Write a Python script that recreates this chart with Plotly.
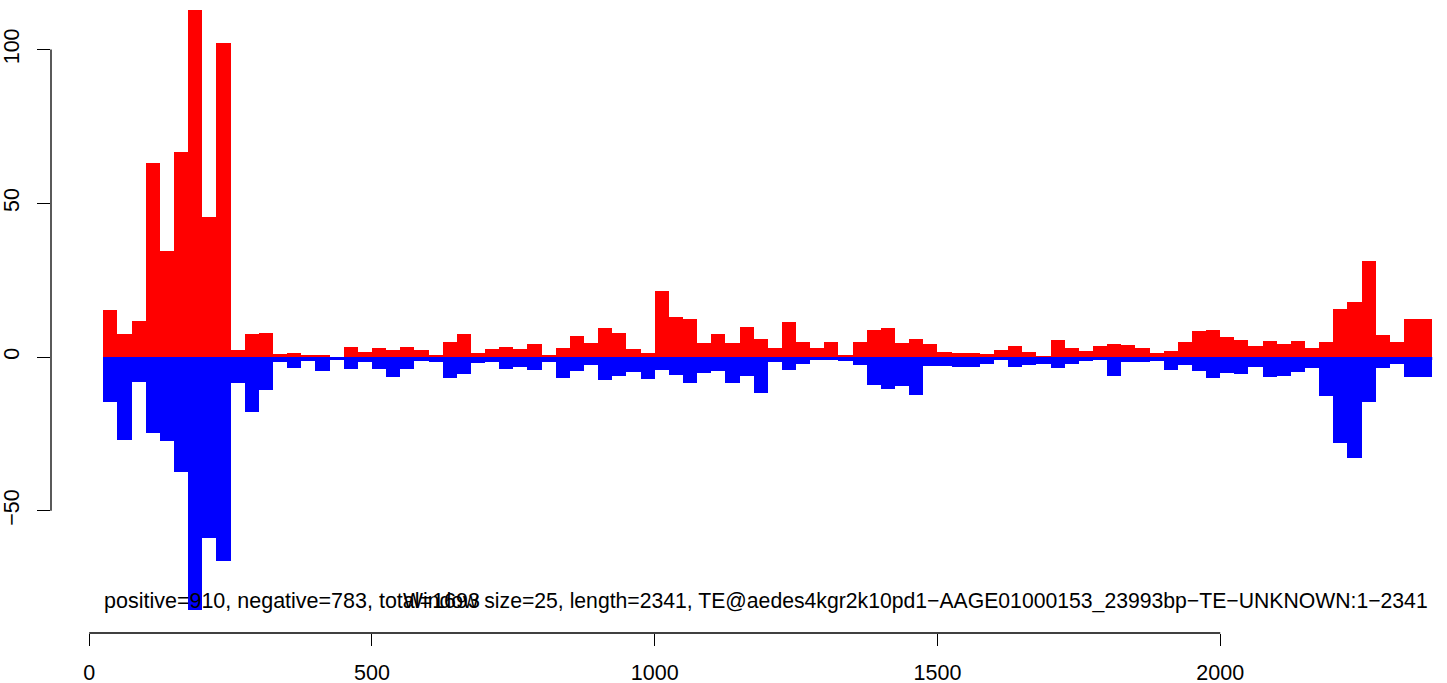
import plotly.graph_objects as go

# ---------------- data ----------------
window_size = 25
seq_length = 2341

positive_counts = [
    15.4, 7.5, 11.8, 63.0, 34.5, 66.7, 113.0, 45.7, 102.3, 2.3,
    7.5, 7.9, 1.0, 1.4, 0.6, 0.4, 0.0, 3.1, 1.5, 2.8,
    2.2, 3.1, 2.2, 0.5, 4.8, 7.4, 1.2, 2.5, 3.1, 2.5,
    4.1, 0.5, 2.8, 6.7, 4.5, 9.3, 7.7, 2.5, 1.2, 21.5,
    12.9, 12.3, 4.5, 7.4, 4.5, 9.7, 5.7, 2.8, 11.4, 4.9,
    2.9, 4.9, 0.7, 4.9, 8.8, 9.4, 4.6, 5.9, 4.2, 1.6,
    1.3, 1.3, 1.0, 2.3, 3.6, 1.6, 0.3, 5.5, 2.9, 2.0,
    3.6, 4.2, 3.9, 2.9, 1.3, 2.0, 4.9, 8.5, 8.8, 6.5,
    5.5, 3.6, 5.2, 4.2, 5.2, 2.9, 4.9, 15.6, 17.9, 31.2,
    7.2, 4.9, 12.4, 12.4,
]

negative_counts = [
    -14.7, -27.0, -8.1, -24.7, -27.3, -37.5, -82.3, -58.8, -66.5, -8.4,
    -17.8, -10.6, -1.6, -3.5, -1.2, -4.4, -0.5, -4.0, -1.7, -4.0,
    -6.6, -4.0, -1.4, -1.7, -6.9, -5.6, -2.1, -1.7, -4.0, -3.4,
    -4.3, -1.7, -6.9, -4.7, -2.7, -7.6, -6.3, -5.0, -7.3, -4.3,
    -6.0, -8.6, -5.3, -4.7, -8.6, -6.3, -11.8, -1.5, -4.2, -2.3,
    -0.7, -0.7, -1.3, -2.6, -9.1, -10.4, -9.4, -12.4, -2.9, -2.9,
    -3.3, -3.3, -2.3, -1.0, -3.3, -2.6, -2.3, -3.6, -2.3, -1.3,
    -1.0, -6.2, -1.6, -1.6, -1.3, -4.2, -2.6, -4.6, -6.8, -5.2,
    -5.5, -3.3, -6.5, -6.2, -4.9, -3.6, -12.7, -28.0, -32.9, -14.6,
    -3.6, -2.3, -6.5, -6.5,
]

x_tick_values = [0, 500, 1000, 1500, 2000]
y_tick_values = [-50, 0, 50, 100]

summary_text = "positive=910, negative=783, total=1693"
title_text = ("Window size=25, length=2341, "
              "TE@aedes4kgr2k10pd1\u2212AAGE01000153_23993bp\u2212TE\u2212UNKNOWN:1\u22122341")

# ---------------- geometry ----------------
n_bins = len(positive_counts)
bin_left = [window_size * (i + 1) for i in range(n_bins)]
bin_center = [b + window_size / 2 for b in bin_left]

W, H = 1447, 683

axis_left_px = 51
axis_bottom_px = 633
ML, MR, MT, MB = axis_left_px, 0, 0, H - axis_bottom_px
plot_w = W - ML - MR
plot_h = H - MT - MB

x0_px, x_scale = 89.2, 0.5655    # px of x=0, px per unit
y0_px, y_scale = 357.0, 3.074    # px of y=0, px per unit

x_range = [(ML - x0_px) / x_scale, (W - MR - x0_px) / x_scale]
y_range = [(y0_px - (H - MB)) / y_scale, (y0_px - MT) / y_scale]

def px_to_paper_x(px):
    return (px - ML) / plot_w

def px_to_paper_y(py):
    return 1 - (py - MT) / plot_h

FONT = "Liberation Sans, Arial, Helvetica, sans-serif"
FS = 21.5

fig = go.Figure()
fig.add_trace(go.Bar(x=bin_center, y=positive_counts, width=window_size,
                     marker=dict(color="#FF0000", line=dict(width=0)),
                     showlegend=False, hoverinfo="x+y"))
fig.add_trace(go.Bar(x=bin_center, y=negative_counts, width=window_size,
                     marker=dict(color="#0000FF", line=dict(width=0)),
                     showlegend=False, hoverinfo="x+y"))

# blue zero band across the bins
fig.add_shape(type="rect", xref="x", yref="y",
              x0=bin_left[0], x1=bin_left[-1] + window_size, y0=0, y1=-1,
              fillcolor="#0000FF", line=dict(width=0), layer="above")

# R-style axis lines spanning only the tick range
fig.add_shape(type="line", xref="x", yref="paper",
              x0=x_tick_values[0], x1=x_tick_values[-1], y0=0, y1=0,
              line=dict(color="black", width=1.3))
fig.add_shape(type="line", xref="paper", yref="y",
              x0=0, x1=0, y0=y_tick_values[0], y1=y_tick_values[-1],
              line=dict(color="black", width=1.3))

fig.add_annotation(text=summary_text, xref="paper", yref="paper",
                   x=px_to_paper_x(103), y=px_to_paper_y(600.5),
                   xanchor="left", yanchor="middle", showarrow=False,
                   borderpad=0, font=dict(family=FONT, size=FS, color="black"))
fig.add_annotation(text=title_text, xref="paper", yref="paper",
                   x=px_to_paper_x(1429), y=px_to_paper_y(600.5),
                   xanchor="right", yanchor="middle", showarrow=False,
                   borderpad=0, font=dict(family=FONT, size=21.2, color="black"))

fig.update_layout(
    width=W, height=H,
    margin=dict(l=ML, r=MR, t=MT, b=MB, autoexpand=False),
    plot_bgcolor="white", paper_bgcolor="white",
    barmode="overlay", bargap=0,
    font=dict(family=FONT, size=FS, color="black"),
    xaxis=dict(range=x_range, tickvals=x_tick_values, ticks="outside",
               ticklen=12, tickwidth=1.3, tickcolor="black",
               ticklabelstandoff=8,
               showline=False, showgrid=False, zeroline=False,
               tickfont=dict(family=FONT, size=FS, color="black")),
    yaxis=dict(range=y_range, tickvals=y_tick_values, ticks="outside",
               ticklen=13, tickwidth=1.3, tickcolor="black", tickangle=-90,
               ticklabelstandoff=9,
               showline=False, showgrid=False, zeroline=False,
               tickfont=dict(family=FONT, size=FS, color="black")),
)

fig.write_html(
    "out.html",
    config={"displayModeBar": False},
    post_script="document.body.style.margin='0';document.body.style.overflow='hidden';",
)
